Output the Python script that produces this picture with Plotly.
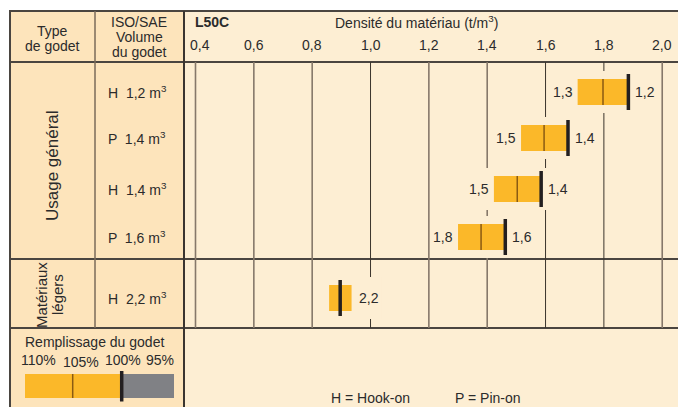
import plotly.graph_objects as go

# ---------------- data ----------------
row_labels = ["H  1,2 m<sup>3</sup>", "P  1,4 m<sup>3</sup>", "H  1,4 m<sup>3</sup>",
              "P  1,6 m<sup>3</sup>", "H  2,2 m<sup>3</sup>"]
dens_110 = [1.710, 1.516, 1.423, 1.300, 0.858]      # left edge of bar
dens_105 = [1.797, 1.595, 1.503, 1.379, None]       # thin mark
dens_end = [1.884, 1.677, 1.585, 1.462, 0.935]      # right edge of bar
dens_100 = [1.884, 1.677, 1.585, 1.462, 0.896]      # thick mark (100 %)
left_vals = ["1,3", "1,5", "1,5", "1,8", ""]
right_vals = ["1,2", "1,4", "1,4", "1,6", "2,2"]
tick_vals = [0.4, 0.6, 0.8, 1.0, 1.2, 1.4, 1.6, 1.8, 2.0]
tick_text = ["0,4", "0,6", "0,8", "1,0", "1,2", "1,4", "1,6", "1,8", "2,0"]
fill_labels = ["110%", "105%", "100%", "95%"]

# ---------------- layout constants ----------------
W, H = 678, 407
X04, PXU = 195.5, 291.7            # pixel of 0.4 and pixels per unit
xr = [0.4 - X04 / PXU, 0.4 + (W - X04) / PXU]
row_y = [92, 138, 189, 237, 298]
FONT = "Liberation Sans"
TXT = "#2b2b2b"
BAR = "#fbb829"
PLOT_BG = "#fdeed3"
LEFT_BG = "#fde4bb"

def px(x):
    return x / W

fig = go.Figure()
shapes = []

# backgrounds
shapes.append(dict(type="rect", xref="paper", yref="y", x0=px(10), x1=px(184), y0=11, y1=H,
                   fillcolor=LEFT_BG, line_width=0, layer="below"))
shapes.append(dict(type="rect", xref="paper", yref="y", x0=px(184), x1=1, y0=11, y1=H,
                   fillcolor=PLOT_BG, line_width=0, layer="below"))

# grid lines
dark_grid = {1.0, 1.6, 1.8}
for v in tick_vals:
    if v in dark_grid:
        c, w = "#3b342c", 1
    else:
        c, w = "#86786a", 1.6
    shapes.append(dict(type="line", xref="x", yref="y", x0=v, x1=v, y0=62, y1=328,
                       line=dict(color=c, width=w), layer="below"))

# covers behind label groups (gaps in grid lines)
for i, yc in enumerate(row_y):
    x0 = dens_110[i] - (26 / PXU if left_vals[i] else 0)
    x1 = dens_end[i] + 30 / PXU
    shapes.append(dict(type="rect", xref="x", yref="y", x0=x0, x1=x1, y0=yc - 21, y1=yc + 21,
                       fillcolor=PLOT_BG, line_width=0, layer="below"))

# table lines
def hline(y, x0, x1, color="#4a4540", w=2):
    shapes.append(dict(type="line", xref="paper", yref="y", x0=px(x0), x1=px(x1), y0=y, y1=y,
                       line=dict(color=color, width=w), layer="below"))

def vline(x, y0, y1, color="#4a4540", w=2):
    shapes.append(dict(type="line", xref="paper", yref="y", x0=px(x), x1=px(x), y0=y0, y1=y1,
                       line=dict(color=color, width=w), layer="below"))

hline(11, 9, W)
hline(62, 10, W)
hline(259, 10, W)
hline(328, 10, W)
vline(10, 10, H)
vline(95, 11, 328, color="#7a6b5a", w=1.5)
vline(184, 11, H, color="#3a3530", w=2)

# legend bar (fill level key)
shapes.append(dict(type="rect", xref="paper", yref="y", x0=px(25), x1=px(121.5), y0=374, y1=398,
                   fillcolor=BAR, line_width=0))
shapes.append(dict(type="rect", xref="paper", yref="y", x0=px(121.5), x1=px(174), y0=374, y1=398,
                   fillcolor="#808185", line_width=0))
shapes.append(dict(type="line", xref="paper", yref="y", x0=px(72.7), x1=px(72.7), y0=374, y1=398,
                   line=dict(color="#8a5a12", width=1.5)))
shapes.append(dict(type="line", xref="paper", yref="y", x0=px(121.7), x1=px(121.7), y0=371, y1=401.5,
                   line=dict(color="#231f20", width=3.5)))

# ---------------- bars ----------------
fig.add_trace(go.Bar(
    orientation="h", y=row_y,
    x=[e - s for s, e in zip(dens_110, dens_end)], base=dens_110,
    width=26, marker=dict(color=BAR, line_width=0), hoverinfo="skip"))

mx, my = [], []
for v, yc in zip(dens_105, row_y):
    if v is not None:
        mx += [v, v, None]
        my += [yc - 13, yc + 13, None]
fig.add_trace(go.Scatter(x=mx, y=my, mode="lines", line=dict(color="#8a5a12", width=1.5),
                         hoverinfo="skip"))
tx, ty = [], []
for v, yc in zip(dens_100, row_y):
    tx += [v, v, None]
    ty += [yc - 18, yc + 18, None]
fig.add_trace(go.Scatter(x=tx, y=ty, mode="lines", line=dict(color="#231f20", width=3.5),
                         hoverinfo="skip"))

# ---------------- text ----------------
ann = []
def text(x, y, s, size=14, xref="paper", xanchor="center", angle=0, bold=False, xshift=0):
    ann.append(dict(x=x, y=y, xref=xref, yref="y", text=("<b>%s</b>" % s) if bold else s,
                    showarrow=False, xanchor=xanchor, yanchor="middle", textangle=angle,
                    xshift=xshift, font=dict(family=FONT, size=size, color=TXT)))

text(px(52.5), 31, "Type")
text(px(52.5), 46, "de godet")
text(px(139), 22, "ISO/SAE")
text(px(139), 37, "Volume")
text(px(139), 52, "du godet")
text(px(193), 22, "L50C", xanchor="left", bold=True)
text(px(333), 22, "Densité du matériau (t/m<sup>3</sup>)", xanchor="left")
for v, t in zip(tick_vals, tick_text):
    text(v, 45, t, xref="x", xshift=4 if t == "0,4" else 0)

text(px(52), 166, "Usage général", size=17, angle=-90)
text(px(41), 295, "Matériaux", size=15, angle=-90)
text(px(57), 295, "légers", size=15, angle=-90)

for lab, yc in zip(row_labels, row_y):
    text(px(137), yc, lab)

for i, yc in enumerate(row_y):
    if left_vals[i]:
        text(dens_110[i], yc, left_vals[i], xref="x", xanchor="right", xshift=-3)
    text(dens_end[i], yc, right_vals[i], xref="x", xanchor="left", xshift=5)

text(px(94.5), 342, "Remplissage du godet")
for lab, xc, yy in zip(fill_labels, [38, 81, 123, 160], [360, 362, 360, 360]):
    text(px(xc), yy, lab)

text(px(329), 398, "H = Hook-on", xanchor="left")
text(px(453), 398, "P = Pin-on", xanchor="left")

fig.update_layout(
    width=W, height=H, margin=dict(l=0, r=0, t=0, b=0),
    paper_bgcolor="white", plot_bgcolor="rgba(0,0,0,0)",
    showlegend=False, barmode="overlay",
    xaxis=dict(range=xr, visible=False, fixedrange=True),
    yaxis=dict(range=[H, 0], visible=False, fixedrange=True),
    shapes=shapes, annotations=ann,
)

fig.write_html("out.html", config={"displayModeBar": False},
               post_script="document.body.style.margin='0';document.body.style.overflow='hidden';")
